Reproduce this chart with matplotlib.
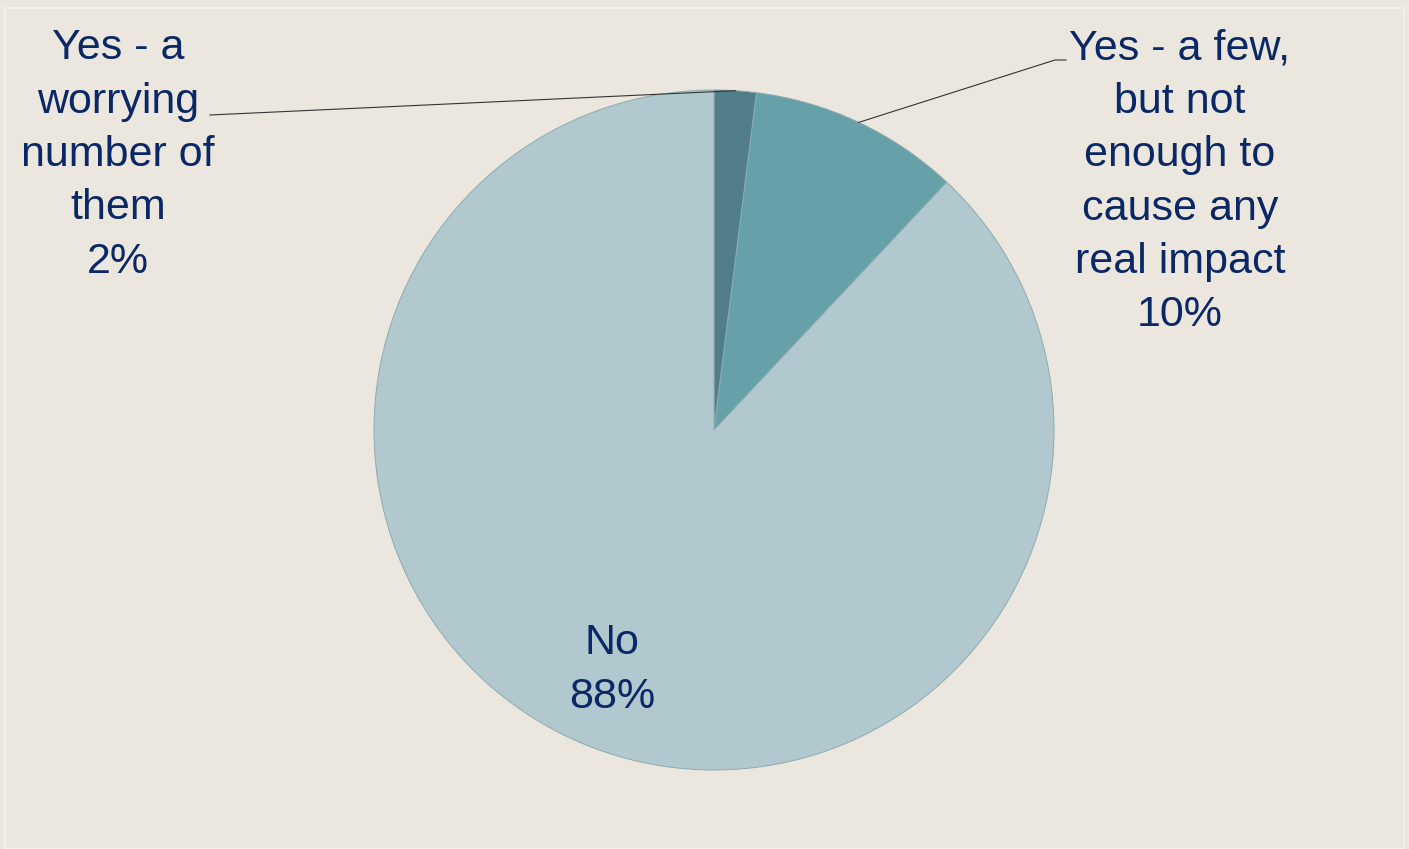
import numpy as np
import matplotlib
matplotlib.use('Agg')
import matplotlib.pyplot as plt

# dados do grafico
rotulos = ['Yes - a\nworrying\nnumber of\nthem', 'Yes - a few,\nbut not\nenough to\ncause any\nreal impact', 'No']
valores = [2, 10, 88]
cores = ['#527f87', '#66a1aa', '#b1c8ce']

fundo = '#ebe7de'
cor_texto = '#0b2866'
plt.rcParams['font.family'] = ['Liberation Sans', 'DejaVu Sans']

W, H = 1409, 849
fig = plt.figure(figsize=(W / 100, H / 100), dpi=100, facecolor=fundo)
ax = fig.add_axes([0, 0, 1, 1])

centro = (714, H - 430)
raio = 340
wedges, _ = ax.pie(valores, colors=cores, startangle=90, counterclock=False,
                   center=centro, radius=raio, frame=True,
                   wedgeprops=dict(edgecolor='#8eaab0', linewidth=0.7))
ax.set_xlim(0, W)
ax.set_ylim(0, H)
ax.set_aspect('equal')
ax.axis('off')

# borda clara em volta
fig.patches.append(plt.Rectangle((5 / W, 0), (W - 10) / W, (H - 8) / H, transform=fig.transFigure,
                                 fill=False, edgecolor='#f3f0ea', linewidth=1.5))

def ponto_borda(w):
    ang = np.deg2rad((w.theta1 + w.theta2) / 2)
    return centro[0] + raio * np.cos(ang), centro[1] + raio * np.sin(ang)

# rotulo 2%
px, py = ponto_borda(wedges[0])
ax.plot([px, 210], [py, H - 115], color='#333333', lw=0.8)
ax.text(118, H - 155, f'{rotulos[0]}\n{valores[0]}%', ha='center', va='center',
        fontsize=31, color=cor_texto, linespacing=1.43)

# rotulo 10%
px, py = ponto_borda(wedges[1])
ax.plot([px, 1055, 1066], [py, H - 60, H - 60], color='#333333', lw=0.8)
ax.text(1180, H - 182, f'{rotulos[1]}\n{valores[1]}%', ha='center', va='center',
        fontsize=31, color=cor_texto, linespacing=1.43)

# rotulo 88%
ax.text(612, H - 670, f'{rotulos[2]}\n{valores[2]}%', ha='center', va='center',
        fontsize=31, color=cor_texto, linespacing=1.43)

fig.savefig('out.png', dpi=100, facecolor=fundo)
